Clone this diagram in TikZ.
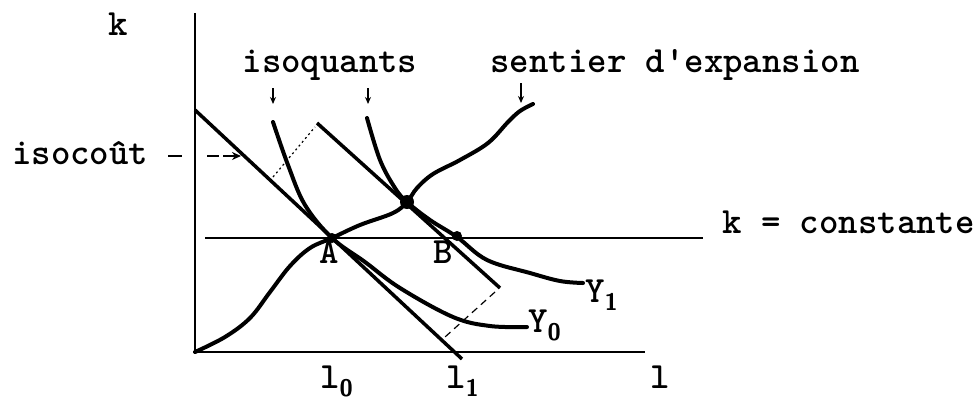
\documentclass[tikz,border=0pt]{standalone}
\usetikzlibrary{arrows.meta}
\newcommand{\sbx}[1]{\raisebox{-0.22em}{\fontsize{24}{24}\selectfont\sffamily #1}}
\begin{document}
\begin{tikzpicture}[x=1pt,y=-1pt,
  lbl/.style={font=\fontsize{37}{40}\selectfont\ttfamily\bfseries, inner sep=0pt},
  axis/.style={line width=2.2pt},
  thinline/.style={line width=1.8pt},
  cost/.style={line width=3.5pt},
  curve/.style={line width=4pt, line cap=round, line join=round},
  dn/.style={line width=1.4pt, -{Stealth[length=7pt,width=6pt]}},
  dotpt/.style={fill=black}]
\useasboundingbox (0,0) rectangle (976,402);
\fill[white] (0,0) rectangle (976,402);
% axes
\coordinate (O) at (195,352);
\coordinate (Ktop) at (195,13);
\coordinate (Lend) at (645,352);
\draw[axis] (Ktop) -- (O) -- (Lend);
% k = constante line
\coordinate (H1) at (205,238);
\coordinate (H2) at (703,238);
\draw[thinline] (H1) -- (H2);
% isocost lines
\coordinate (C1a) at (195,110);
\coordinate (C1b) at (462,359);
\coordinate (C2a) at (317,123);
\coordinate (C2b) at (500,288);
\draw[cost] (C1a) -- (C1b);
\draw[cost] (C2a) -- (C2b);
% shift lines
\coordinate (D1a) at (273,177);
\coordinate (D1b) at (315,127);
\coordinate (D2a) at (495,292);
\coordinate (D2b) at (445,337);
\draw[line width=1.2pt, dash pattern=on 2pt off 3pt] (D1a) -- (D1b);
\draw[line width=1.2pt, dash pattern=on 7pt off 5pt] (D2a) -- (D2b);
% isoquants
\draw[curve] plot[smooth, tension=0.6] coordinates {(273,122) (288,165) (305,205) (332,238) (365,262) (400,288) (453,317) (490,326) (527,327)};
\draw[curve] plot[smooth, tension=0.6] coordinates {(367,118) (380,160) (395,188) (407,202) (430,220) (457,237) (487,260) (530,273) (560,281) (583,283)};
% expansion path
\draw[curve] plot[smooth, tension=0.6] coordinates {(195,352) (225,337) (250,318) (270,292) (290,266) (310,248) (332,238) (360,225) (393,213) (407,202) (417,188) (433,174) (460,160) (488,143) (508,122) (520,111) (533,104)};
% points
\coordinate (A) at (332,238);
\coordinate (T) at (407,202);
\coordinate (B) at (457,236);
\fill[dotpt] (A) circle (5pt);
\fill[dotpt] (T) circle (7pt);
\fill[dotpt] (B) circle (5pt);
% labels
\node[lbl, anchor=base] (k) at (118,35) {k};
\node[lbl, anchor=base] (iso) at (330,72) {isoquants};
\node[lbl, anchor=base] (sent) at (675,72) {sentier d\textquotesingle expansion};
\node[lbl, anchor=base west] (ic) at (12,164) {isocoût};
\node[lbl, anchor=base west] (kc) at (722,233) {k = constante};
\node[lbl, anchor=base] (la) at (329,263) {A};
\node[lbl, anchor=base] (lb) at (443,263) {B};
\node[lbl, anchor=base west] (y1) at (585,302) {Y\sbx{1}};
\node[lbl, anchor=base west] (y0) at (528,332) {Y\sbx{0}};
\node[lbl, anchor=base west] (l0) at (320,388) {l\sbx{0}};
\node[lbl, anchor=base west] (l1) at (446,388) {l\sbx{1}};
\node[lbl, anchor=base west] (l) at (650,388) {l};
% pointer arrows
\coordinate (p1a) at (273,88); \coordinate (p1b) at (273,104);
\coordinate (p2a) at (368,88); \coordinate (p2b) at (368,104);
\coordinate (p3a) at (521,83); \coordinate (p3b) at (521,103);
\draw[dn] (p1a) -- (p1b);
\draw[dn] (p2a) -- (p2b);
\draw[dn] (p3a) -- (p3b);
% isocout arrow
\coordinate (q1) at (168,156); \coordinate (q2) at (182,156);
\coordinate (q3) at (207,156); \coordinate (q4) at (241,156);
\draw[line width=2.4pt] (q1) -- (q2);
\draw[line width=1.8pt, dash pattern=on 12pt off 4pt, -{Stealth[length=9pt,width=8pt]}] (q3) -- (q4);
\end{tikzpicture}
\end{document}
